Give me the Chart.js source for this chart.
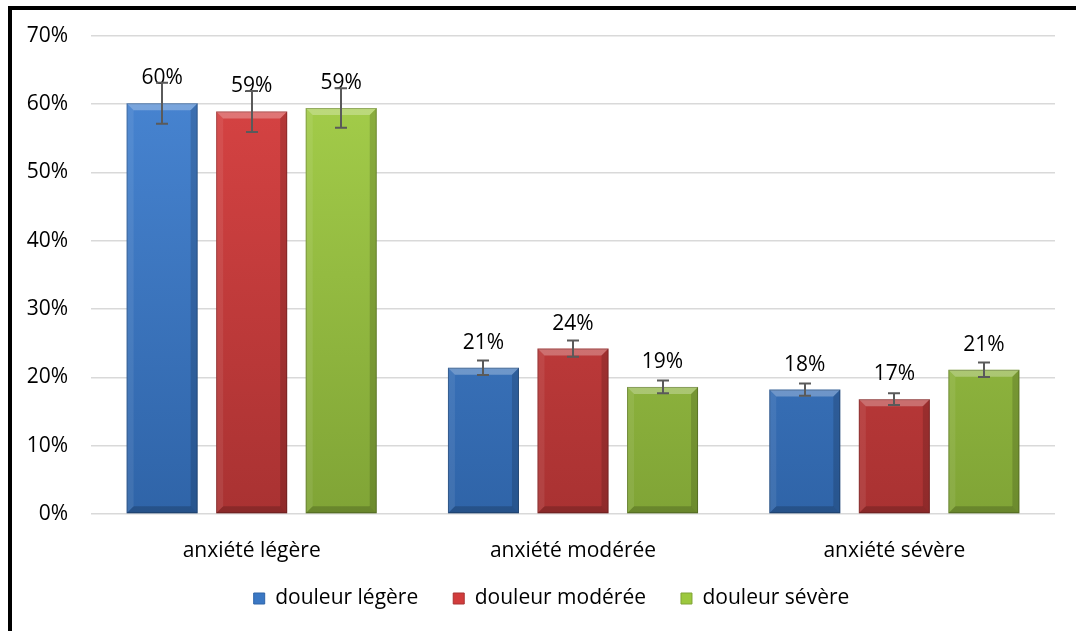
<!DOCTYPE html>
<html><head><meta charset="utf-8">
<script src="https://cdn.jsdelivr.net/npm/chart.js@4.4.0/dist/chart.umd.min.js"></script>
<style>
html,body{margin:0;padding:0;background:#fff;}
#wrap{position:relative;width:1076px;height:631px;overflow:hidden;background:#fff;}
#frame{position:absolute;left:8px;top:6px;width:1200px;height:800px;border-left:4px solid #000;border-top:4px solid #000;pointer-events:none;}
canvas{position:absolute;left:0;top:0;}
</style></head><body>
<div id="wrap"><canvas id="c" width="1076" height="631"></canvas><div id="frame"></div></div>
<script>
const categories = ['anxiété légère', 'anxiété modérée', 'anxiété sévère'];
const seriesNames = ['douleur légère', 'douleur modérée', 'douleur sévère'];
const douleurLegere = [60.1, 21.4, 18.2];
const douleurModeree = [58.9, 24.2, 16.8];
const douleurSevere = [59.4, 18.6, 21.1];
const errLegere = [3.0, 1.05, 0.9];
const errModeree = [3.0, 1.2, 0.85];
const errSevere = [2.9, 0.95, 1.05];
const yTickValues = [0, 10, 20, 30, 40, 50, 60, 70];

const palette = [
  {base:'#3b78c4', light:'#4a88d6', dark:'#2f64a8'},
  {base:'#d23c3c', light:'#dc4545', dark:'#a93232'},
  {base:'#9cc83e', light:'#a8d24c', dark:'#80a436'}
];
const FONT = "'Open Sans', sans-serif";
const FS = 21;

function gradFor(i){
  return (ctx) => {
    const chart = ctx.chart, area = chart.chartArea;
    if (!area) return palette[i].base;
    const g = chart.ctx.createLinearGradient(0, area.top, 0, area.bottom);
    g.addColorStop(0, palette[i].light);
    g.addColorStop(1, palette[i].dark);
    return g;
  };
}

const seriesValues = [douleurLegere, douleurModeree, douleurSevere];
const seriesErrors = [errLegere, errModeree, errSevere];

const bevelPlugin = {
  id: 'bevel',
  afterDatasetDraw(chart, args) {
    const meta = args.meta, ctx = chart.ctx;
    meta.data.forEach(bar => {
      const w = bar.width, L = bar.x - w/2, R = bar.x + w/2, T = bar.y, B = bar.base;
      const b = Math.min(7, (B - T)/2);
      ctx.save();
      ctx.beginPath(); ctx.moveTo(L,T); ctx.lineTo(R,T); ctx.lineTo(R-b,T+b); ctx.lineTo(L+b,T+b); ctx.closePath();
      ctx.fillStyle = 'rgba(255,255,255,0.28)'; ctx.fill();
      ctx.beginPath(); ctx.moveTo(L,T); ctx.lineTo(L+b,T+b); ctx.lineTo(L+b,B-b); ctx.lineTo(L,B); ctx.closePath();
      ctx.fillStyle = 'rgba(255,255,255,0.08)'; ctx.fill();
      ctx.beginPath(); ctx.moveTo(R,T); ctx.lineTo(R-b,T+b); ctx.lineTo(R-b,B-b); ctx.lineTo(R,B); ctx.closePath();
      ctx.fillStyle = 'rgba(0,0,0,0.15)'; ctx.fill();
      ctx.beginPath(); ctx.moveTo(L,B); ctx.lineTo(L+b,B-b); ctx.lineTo(R-b,B-b); ctx.lineTo(R,B); ctx.closePath();
      ctx.fillStyle = 'rgba(0,0,0,0.18)'; ctx.fill();
      ctx.strokeStyle = 'rgba(0,0,0,0.22)'; ctx.lineWidth = 1;
      ctx.strokeRect(L+0.5, T+0.5, w-1, B-T-1);
      ctx.restore();
    });
  }
};

const labelErrPlugin = {
  id: 'labelErr',
  afterDatasetsDraw(chart) {
    const ctx = chart.ctx, ys = chart.scales.y;
    ctx.save();
    ctx.font = FS + "px " + FONT;
    ctx.fillStyle = '#000';
    ctx.textAlign = 'center';
    ctx.textBaseline = 'middle';
    chart.data.datasets.forEach((ds, di) => {
      const meta = chart.getDatasetMeta(di);
      meta.data.forEach((bar, i) => {
        ctx.fillText(Math.round(ds.data[i]) + '%', bar.x, bar.y - 25);
      });
    });
    ctx.strokeStyle = '#5a5a5a';
    ctx.lineWidth = 2;
    chart.data.datasets.forEach((ds, di) => {
      const meta = chart.getDatasetMeta(di);
      meta.data.forEach((bar, i) => {
        const v = ds.data[i], e = seriesErrors[di][i];
        const yt = ys.getPixelForValue(v + e), yb = ys.getPixelForValue(v - e);
        const x = Math.round(bar.x);
        ctx.beginPath();
        ctx.moveTo(x, yt); ctx.lineTo(x, yb);
        ctx.moveTo(x - 6, yt); ctx.lineTo(x + 6, yt);
        ctx.moveTo(x - 6, yb); ctx.lineTo(x + 6, yb);
        ctx.stroke();
      });
    });
    ctx.restore();
  }
};

// nudge the legend block to sit where the original places it
const legendShiftPlugin = {
  id: 'legendShift',
  afterLayout(chart) {
    const lg = chart.legend;
    if (lg) { lg.left += 24; lg.right += 24; lg.top -= 11; lg.bottom -= 11; }
  }
};

new Chart(document.getElementById('c'), {
  type: 'bar',
  data: {
    labels: categories,
    datasets: seriesNames.map((n, i) => ({
      label: n,
      data: seriesValues[i],
      backgroundColor: gradFor(i),
      borderWidth: 0,
      categoryPercentage: 0.836,
      barPercentage: 0.793
    }))
  },
  options: {
    responsive: false,
    animation: false,
    devicePixelRatio: 1,
    layout: { padding: { top: 35, right: 21, bottom: 1, left: 0 } },
    plugins: {
      tooltip: { enabled: false },
      legend: {
        position: 'bottom',
        labels: {
          boxWidth: 11, boxHeight: 11, padding: 35,
          color: '#000',
          font: { family: FONT, size: FS },
          generateLabels(chart) {
            return chart.data.datasets.map((ds, i) => ({
              text: ds.label, fillStyle: palette[i].base, strokeStyle: palette[i].dark,
              lineWidth: 1, hidden: false, datasetIndex: i
            }));
          }
        }
      }
    },
    scales: {
      x: {
        afterFit(s) { s.height = 50; },
        grid: { display: false, drawTicks: false },
        border: { display: false },
        ticks: { color: '#000', font: { family: FONT, size: FS }, padding: 24 }
      },
      y: {
        min: 0, max: 70,
        afterFit(s) { s.width = 91; },
        afterBuildTicks(s) { s.ticks = yTickValues.map(v => ({ value: v })); },
        grid: { color: '#d9d9d9', lineWidth: 1.5, drawTicks: false },
        border: { display: false },
        ticks: { color: '#000', font: { family: FONT, size: FS }, padding: 23, callback: v => v + '%' }
      }
    }
  },
  plugins: [bevelPlugin, labelErrPlugin, legendShiftPlugin]
});
</script>
</body></html>
